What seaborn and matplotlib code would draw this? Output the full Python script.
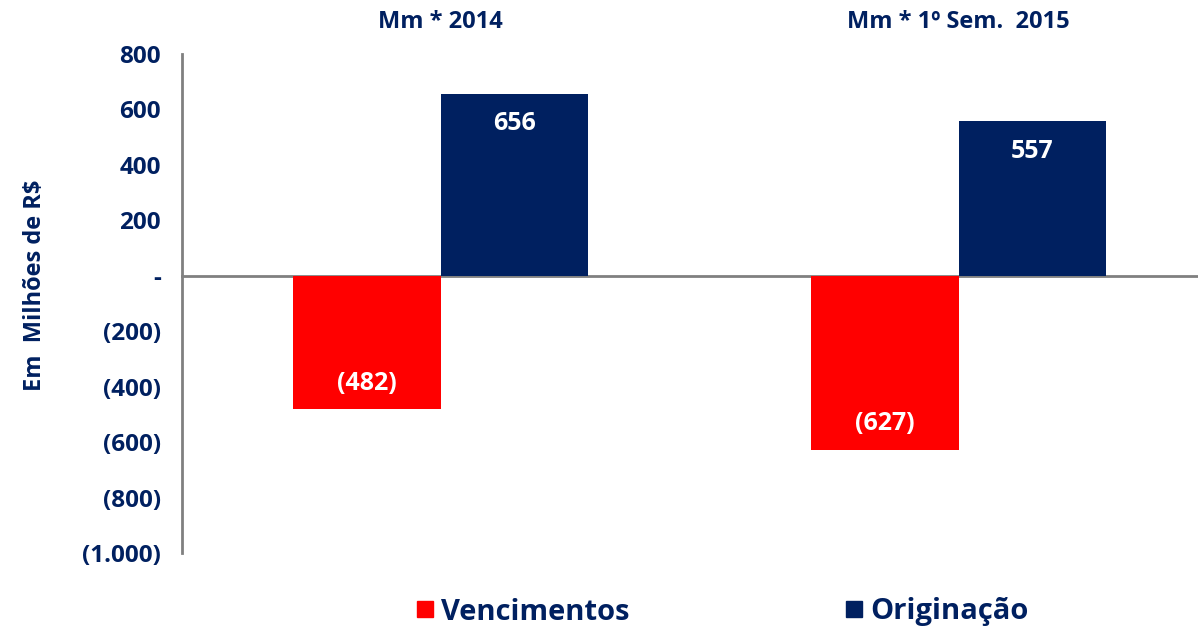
import matplotlib
matplotlib.use("Agg")
import matplotlib.pyplot as plt
from matplotlib.lines import Line2D
import matplotlib.transforms as mtransforms
import seaborn as sns
import pandas as pd

# ---- data ----
categories = ["Mm * 2014", "Mm * 1º Sem.  2015"]
series = ["Vencimentos", "Originação"]
vencimentos = [-482, -627]
originacao = [656, 557]
y_ticks = [800, 600, 400, 200, 0, -200, -400, -600, -800, -1000]
y_tick_labels = ["800", "600", "400", "200", "-", "(200)", "(400)", "(600)", "(800)", "(1.000)"]
bar_labels_v = ["(482)", "(627)"]
bar_labels_o = ["656", "557"]

RED = "#FF0000"
NAVY = "#002060"
GRAY = "#808080"

sns.set_style("white")
plt.rcParams["font.family"] = ["Open Sans", "DejaVu Sans"]
plt.rcParams["font.weight"] = "bold"

df = pd.DataFrame({
    "cat": categories * 2,
    "serie": [series[0]] * 2 + [series[1]] * 2,
    "valor": vencimentos + originacao,
})

fig = plt.figure(figsize=(11.98, 6.31), dpi=100)
ax = fig.add_axes([182 / 1198, 1 - 553 / 631, (1217.5 - 182) / 1198, (553 - 54) / 631])

sns.barplot(data=df, x="cat", y="valor", hue="serie", hue_order=series,
            palette={series[0]: RED, series[1]: NAVY}, width=0.57, gap=0,
            linewidth=0, saturation=1, errorbar=None, ax=ax, legend=False)

ax.set_ylim(-1000, 800)
ax.set_xlim(-0.5, 1.5)
ax.set_yticks(y_ticks)
ax.set_yticklabels(y_tick_labels)
ax.tick_params(axis="y", colors=GRAY, length=7, width=1.5, direction="out", pad=8,
               labelcolor=NAVY, labelsize=17.5)
for t in ax.get_yticklabels():
    t.set_fontweight("bold")

ax.set_xticks([-0.5, 0.5, 1.5])
ax.set_xticklabels(["", "", ""])
ax.tick_params(axis="x", colors=GRAY, length=5, width=1.5, direction="out")
ax.set_xlabel("")
ax.set_ylabel("Em  Milhões de R$", color=NAVY, fontsize=17, fontweight="bold")
ax.yaxis.set_label_coords(-0.1305, 0.537)

for s in ["top", "right"]:
    ax.spines[s].set_visible(False)
ax.spines["left"].set_color(GRAY)
ax.spines["left"].set_linewidth(2)
ax.spines["bottom"].set_position(("data", 0))
ax.spines["bottom"].set_color(GRAY)
ax.spines["bottom"].set_linewidth(2)
ax.spines["bottom"].set_zorder(0.5)

# bar labels
for cont, labels in zip(ax.containers, [bar_labels_v, bar_labels_o]):
    for patch, lab in zip(cont.patches, labels):
        x = patch.get_x() + patch.get_width() / 2
        h = patch.get_height()
        end = patch.get_y() + h
        off = -30 if h > 0 else 26
        ax.annotate(lab, (x, end), xytext=(0, off), textcoords="offset pixels",
                    ha="center", va="center", color="white", fontsize=18, fontweight="bold")

# category titles on top
trans = mtransforms.blended_transform_factory(ax.transData, fig.transFigure)
for i, c in enumerate(categories):
    ax.text(i, 1 - 22 / 631, c, transform=trans, ha="center", va="center",
            color=NAVY, fontsize=17, fontweight="bold")

handles = [Line2D([], [], marker="s", linestyle="", markersize=12, color=RED),
           Line2D([], [], marker="s", linestyle="", markersize=12, color=NAVY)]
fig.legend(handles, series, loc="center", bbox_to_anchor=(722 / 1198, 1 - 612 / 631),
           ncol=2, frameon=False, handlelength=0.6, handletextpad=0.25, columnspacing=7.4,
           prop={"size": 21, "weight": "bold"}, labelcolor=NAVY)

fig.savefig("out.png", dpi=100)
